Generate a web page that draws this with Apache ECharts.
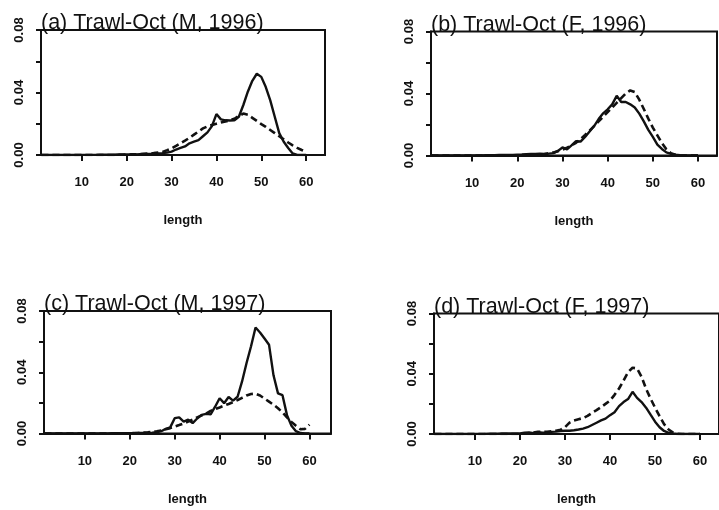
<!DOCTYPE html>
<html>
<head>
<meta charset="utf-8">
<script src="https://cdn.jsdelivr.net/npm/echarts@6/dist/echarts.min.js"></script>
<style>
  html, body { margin: 0; padding: 0; background: #fff; }
  #chart { width: 719px; height: 510px; }
</style>
</head>
<body>
<div id="chart"></div>
<script>
// Length classes (cm)
const lengths = [];
for (let i = 1; i <= 60; i++) lengths.push(i);

const xTicks = [10, 20, 30, 40, 50, 60];

const panelTitles = [
  '(a) Trawl-Oct (M, 1996)',
  '(b) Trawl-Oct (F, 1996)',
  '(c) Trawl-Oct (M, 1997)',
  '(d) Trawl-Oct (F, 1997)'
];

// Observed proportions at length (solid lines), lengths 1..60
const obsA = [
  0,0,0,0,0,0,0,0,0,0.0001,
  0.0001,0.0001,0.0001,0.0002,0.0002,0.0002,0.0002,0.0003,0.0003,0.0003,
  0.0004,0.0004,0.0005,0.0006,0.0007,0.0008,0.0010,0.0012,0.0015,0.0022,
  0.0035,0.0045,0.0055,0.0075,0.0085,0.0095,0.0120,0.0145,0.0185,0.0262,
  0.0228,0.0222,0.0221,0.0222,0.0245,0.0320,0.0405,0.0475,0.0520,0.0500,
  0.0435,0.0350,0.0245,0.0140,0.0085,0.0045,0.0010,0,0,0
];
const obsB = [
  0,0,0,0,0,0,0,0,0,0.0001,
  0.0001,0.0001,0.0002,0.0002,0.0002,0.0003,0.0003,0.0003,0.0004,0.0005,
  0.0006,0.0008,0.0010,0.0010,0.0012,0.0010,0.0012,0.0015,0.0030,0.0052,
  0.0040,0.0065,0.0092,0.0090,0.0120,0.0155,0.0190,0.0235,0.0272,0.0298,
  0.0330,0.0385,0.0345,0.0345,0.0330,0.0310,0.0270,0.0220,0.0165,0.0120,
  0.0070,0.0042,0.0020,0.0010,0.0005,0.0002,0,0,0,0
];
const obsC = [
  0,0,0,0,0,0,0,0,0,0,
  0.0001,0.0001,0.0001,0.0001,0.0001,0.0002,0.0002,0.0002,0.0002,0.0002,
  0.0002,0.0003,0.0003,0.0004,0.0005,0.0008,0.0015,0.0030,0.0040,0.0100,
  0.0105,0.0078,0.0090,0.0068,0.0098,0.0122,0.0128,0.0125,0.0175,0.0230,
  0.0198,0.0238,0.0215,0.0240,0.0340,0.0460,0.0570,0.0692,0.0660,0.0620,
  0.0580,0.0380,0.0262,0.0250,0.0120,0.0050,0.0015,0.0003,0,0
];
const obsD = [
  0,0,0,0,0,0,0,0,0,0.0001,
  0.0001,0.0001,0.0002,0.0002,0.0002,0.0003,0.0003,0.0003,0.0003,0.0003,
  0.0008,0.0010,0.0006,0.0012,0.0008,0.0010,0.0014,0.0016,0.0020,0.0022,
  0.0022,0.0025,0.0030,0.0036,0.0045,0.0060,0.0075,0.0090,0.0102,0.0125,
  0.0145,0.0185,0.0212,0.0232,0.0280,0.0240,0.0212,0.0175,0.0128,0.0082,
  0.0045,0.0020,0.0008,0.0003,0,0,0,0,0,0
];

// Fitted proportions at length (dashed lines), lengths 1..60
const fitA = [
  0,0,0,0,0,0,0,0,0,0,
  0,0,0,0,0,0,0,0.0001,0.0002,0.0003,
  0.0004,0.0005,0.0006,0.0008,0.0010,0.0012,0.0015,0.0020,0.0030,0.0042,
  0.0058,0.0075,0.0092,0.0110,0.0130,0.0150,0.0170,0.0183,0.0192,0.0200,
  0.0208,0.0214,0.0222,0.0232,0.0250,0.0265,0.0258,0.0238,0.0218,0.0198,
  0.0180,0.0160,0.0140,0.0120,0.0100,0.0080,0.0062,0.0046,0.0032,0.0020
];
const fitB = [
  0,0,0,0,0,0,0,0,0,0,
  0,0,0,0,0,0,0,0,0,0.0001,
  0.0002,0.0003,0.0004,0.0005,0.0007,0.0010,0.0014,0.0020,0.0028,0.0038,
  0.0050,0.0065,0.0082,0.0105,0.0132,0.0160,0.0190,0.0220,0.0250,0.0280,
  0.0310,0.0340,0.0370,0.0400,0.0420,0.0410,0.0360,0.0300,0.0238,0.0180,
  0.0130,0.0080,0.0040,0.0015,0.0005,0,0,0,0,0
];
const fitC = [
  0,0,0,0,0,0,0,0,0,0,
  0,0,0,0,0,0,0,0,0,0.0002,
  0.0003,0.0004,0.0006,0.0008,0.0011,0.0015,0.0020,0.0027,0.0035,0.0045,
  0.0055,0.0066,0.0078,0.0090,0.0105,0.0118,0.0130,0.0148,0.0160,0.0170,
  0.0182,0.0193,0.0205,0.0218,0.0233,0.0248,0.0258,0.0260,0.0248,0.0228,
  0.0208,0.0188,0.0165,0.0138,0.0105,0.0075,0.0050,0.0028,0.0030,0.0058
];
const fitD = [
  0,0,0,0,0,0,0,0,0,0,
  0,0,0,0,0,0,0,0,0,0,
  0.0003,0.0006,0.0010,0.0015,0.0015,0.0015,0.0018,0.0022,0.0028,0.0045,
  0.0075,0.0090,0.0098,0.0106,0.0120,0.0140,0.0158,0.0178,0.0200,0.0222,
  0.0260,0.0302,0.0355,0.0410,0.0440,0.0435,0.0380,0.0300,0.0235,0.0175,
  0.0118,0.0065,0.0030,0.0010,0.0002,0,0,0,0,0
];

const observed = [obsA, obsB, obsC, obsD];
const fitted = [fitA, fitB, fitC, fitD];

// Panel boxes in pixels
const boxes = [
  { left: 41,  top: 30,    width: 284, height: 125,   xMax: 64.2 },
  { left: 431, top: 31.5,  width: 286, height: 124,   xMax: 64.2 },
  { left: 44,  top: 311,   width: 287, height: 122.5, xMax: 64.8 },
  { left: 434, top: 313.5, width: 287, height: 120.5, xMax: 64.2 }
];

const FONT = '"Liberation Sans", Arial, Helvetica, sans-serif';
const INK = '#111';

const pairs = arr => lengths.map((x, i) => [x, arr[i]]);

const grid = [], xAxis = [], yAxis = [], series = [], title = [];

boxes.forEach((b, k) => {
  grid.push({
    left: b.left, top: b.top, width: b.width, height: b.height,
    show: true, borderColor: INK, borderWidth: 2, backgroundColor: 'transparent'
  });
  title.push({
    text: panelTitles[k],
    left: b.left,
    top: b.top - 17.5,
    padding: 0,
    textStyle: { fontFamily: FONT, fontSize: 21.5, fontWeight: 'normal', color: INK }
  });
  xAxis.push({
    type: 'value', gridIndex: k, min: 0.9, max: b.xMax,
    name: 'length', nameLocation: 'middle', nameGap: 59,
    nameTextStyle: { fontFamily: FONT, fontSize: 13, fontWeight: 'bold', color: INK },
    axisLine: { show: true, onZero: false, lineStyle: { color: INK, width: 2 } },
    axisTick: { show: true, length: 6, lineStyle: { color: INK, width: 2 }, customValues: xTicks },
    axisLabel: { fontFamily: FONT, fontSize: 13, fontWeight: 'bold', color: INK, margin: 21, customValues: xTicks },
    splitLine: { show: false }
  });
  yAxis.push({
    type: 'value', gridIndex: k, min: 0, max: 0.08, interval: 0.02,
    axisLine: { show: true, lineStyle: { color: INK, width: 2 } },
    axisTick: { show: true, length: 5, lineStyle: { color: INK, width: 2 } },
    axisLabel: {
      rotate: 90, margin: 15, fontFamily: FONT, fontSize: 13, fontWeight: 'bold', color: INK,
      formatter: v => (Math.round(v * 100) % 4 === 0 ? v.toFixed(2) : '')
    },
    splitLine: { show: false }
  });
  series.push({
    type: 'line', xAxisIndex: k, yAxisIndex: k, data: pairs(observed[k]),
    showSymbol: false, symbol: 'none', animation: false,
    lineStyle: { color: INK, width: 2.4, type: 'solid' }
  });
  series.push({
    type: 'line', xAxisIndex: k, yAxisIndex: k, data: pairs(fitted[k]),
    showSymbol: false, symbol: 'none', animation: false,
    lineStyle: { color: INK, width: 2.6, type: [7, 4] }
  });
});

const chart = echarts.init(document.getElementById('chart'), null, { renderer: 'canvas' });
chart.setOption({
  backgroundColor: '#fff',
  animation: false,
  title, grid, xAxis, yAxis, series
});
</script>
</body>
</html>
